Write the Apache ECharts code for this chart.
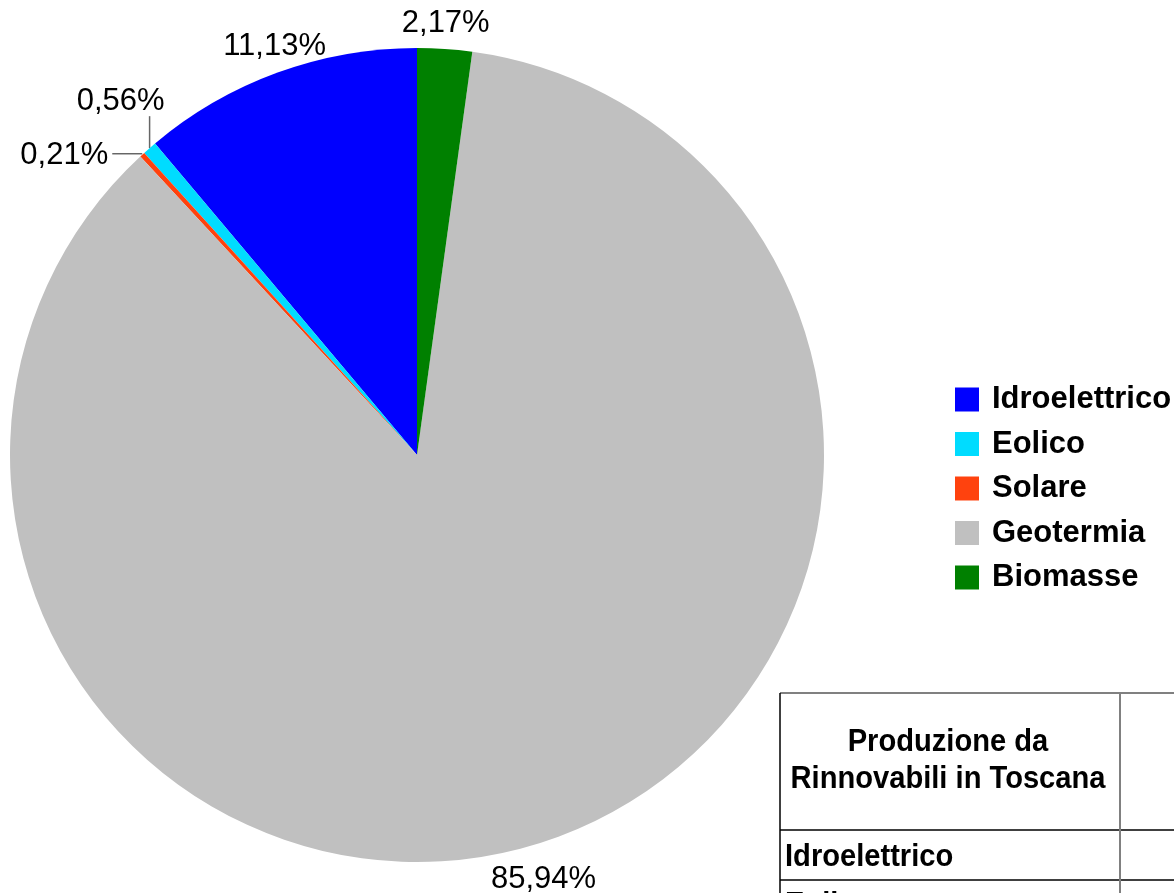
<!DOCTYPE html>
<html>
<head>
<meta charset="utf-8">
<style>
  html, body { margin: 0; padding: 0; background: #fff; }
  #main { width: 1174px; height: 893px; }
</style>
<script src="https://cdn.jsdelivr.net/npm/echarts@6/dist/echarts.min.js"></script>
</head>
<body>
<div id="main"></div>
<script>
// categorie e percentuali
var categories = ['Idroelettrico', 'Eolico', 'Solare', 'Geotermia', 'Biomasse'];
var percentuali = [11.13, 0.56, 0.21, 85.94, 2.17];
var colori = ['#0000ff', '#00dcff', '#ff420e', '#c0c0c0', '#008000'];

// testi della tabella (parzialmente visibile)
var tableHeader = ['Produzione da', 'Rinnovabili in Toscana'];
var tableRows = ['Idroelettrico', 'Eolico'];

var chart = echarts.init(document.getElementById('main'));

// carattere "narrow" simulato con scaleX
var tableFont = 'bold 32px "Liberation Sans", Arial, sans-serif';

function line(x1, y1, x2, y2, color, w) {
  return {
    type: 'line',
    shape: { x1: x1, y1: y1, x2: x2, y2: y2 },
    style: { stroke: color, lineWidth: w },
    silent: true
  };
}

var graphics = [
  line(780, 830, 1174, 830, '#000', 1.5),
  line(780, 880, 1174, 880, '#000', 1.5),
  line(1120, 693, 1120, 893, '#808080', 2),
  line(780, 693, 1174, 693, '#808080', 2),
  line(780, 693, 780, 893, '#000', 1.5),
  {
    type: 'text',
    x: 948, y: 761,
    scaleX: 0.91,
    style: {
      text: tableHeader.join('\n'),
      font: tableFont,
      lineHeight: 37,
      fill: '#000',
      textAlign: 'center',
      textVerticalAlign: 'middle'
    }
  }
];
tableRows.forEach(function (t, i) {
  graphics.push({
    type: 'text',
    x: 785, y: 857 + i * 48,
    scaleX: 0.91,
    style: {
      text: t,
      font: tableFont,
      fill: '#000',
      textAlign: 'left',
      textVerticalAlign: 'middle'
    }
  });
});

chart.setOption({
  backgroundColor: '#fff',
  animation: false,
  color: colori,
  legend: {
    orient: 'vertical',
    left: 955,
    top: 384,
    padding: 0,
    itemWidth: 24,
    itemHeight: 24,
    itemGap: 13.5,
    icon: 'rect',
    data: categories,
    textStyle: {
      fontFamily: '"Liberation Sans", Arial, sans-serif',
      fontWeight: 'bold',
      fontSize: 31,
      lineHeight: 31,
      color: '#000',
      padding: [0, 0, 0, 8]
    }
  },
  graphic: graphics,
  series: [
    {
      type: 'pie',
      center: [417, 455],
      radius: 407,
      startAngle: 90,
      clockwise: false,
      avoidLabelOverlap: false,
      itemStyle: { borderWidth: 0 },
      emphasis: { disabled: true },
      label: {
        show: true,
        position: 'outside',
        fontFamily: '"Liberation Sans", Arial, sans-serif',
        fontSize: 31,
        color: '#000',
        formatter: function (p) {
          return p.value.toFixed(2).replace('.', ',') + '%';
        }
      },
      labelLine: {
        show: true,
        length: 10,
        length2: 0,
        lineStyle: { color: '#666', width: 1.5 }
      },
      labelLayout: function (p) {
        var pts = p.labelLinePoints;
        if (!pts) return {};
        var ex = pts[0][0], ey = pts[0][1];
        var i = p.dataIndex;
        if (i === 1) {
          return {
            x: ex - 29, y: ey - 47, align: 'center', verticalAlign: 'middle',
            labelLinePoints: [[ex, ey], [ex, ey - 16], [ex, ey - 32]]
          };
        }
        if (i === 2) {
          return {
            x: ex - 34, y: ey + 1, align: 'right', verticalAlign: 'middle',
            labelLinePoints: [[ex, ey - 1], [ex - 15, ey - 1], [ex - 30, ey - 1]]
          };
        }
        var off = { 0: [-3, -26], 3: [4, 36], 4: [1, -25] }[i];
        return {
          x: ex + off[0], y: ey + off[1], align: 'center', verticalAlign: 'middle',
          labelLinePoints: [[ex, ey], [ex, ey], [ex, ey]]
        };
      },
      data: categories.map(function (c, i) {
        return { name: c, value: percentuali[i] };
      })
    }
  ]
});
</script>
</body>
</html>
